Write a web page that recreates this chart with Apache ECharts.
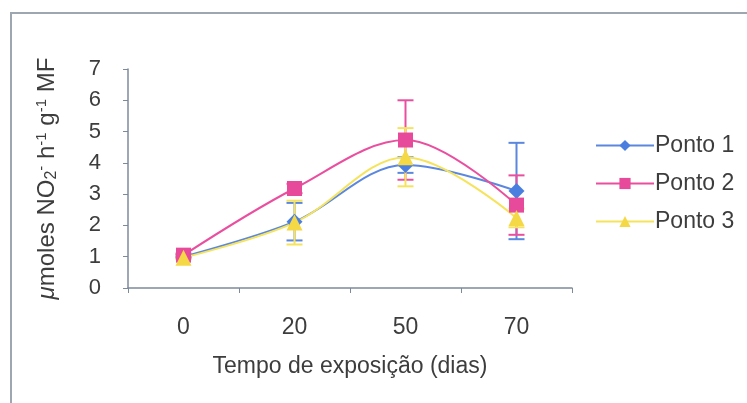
<!DOCTYPE html>
<html><head><meta charset="utf-8">
<script src="https://cdn.jsdelivr.net/npm/echarts@6/dist/echarts.min.js"></script>
<style>html,body{margin:0;padding:0;background:#fff}#c{width:747px;height:403px}</style>
</head><body><div id="c"></div>
<script>
const categories = ['0', '20', '50', '70'];
const ponto1 = [1.0, 2.12, 3.93, 3.1];
const ponto2 = [1.05, 3.18, 4.73, 2.65];
const ponto3 = [0.97, 2.09, 4.18, 2.24];
const err1 = [0.05, 0.6, 0.25, 1.54];
const err2 = [0.05, 0.15, 1.27, 0.95];
const err3 = [0.05, 0.7, 0.93, 0.3];
const yTicks = [0, 1, 2, 3, 4, 5, 6, 7];

const C1 = '#5b87df', C2 = '#ea4f9f', C3 = '#f6e35c';
const M1 = '#4a7fe0', M2 = '#e84a9b', M3 = '#f5d845';
const FONT = '"Liberation Sans", Arial, sans-serif';
const TXT = '#3d3d3d';

function errSeries(name, vals, errs, color) {
  return {
    type: 'custom', name: name + ' err', z: 1, silent: true,
    data: vals.map((v, i) => [i, v - errs[i], v + errs[i]]),
    renderItem: function (params, api) {
      const lo = api.coord([api.value(0), api.value(1)]);
      const hi = api.coord([api.value(0), api.value(2)]);
      const w = 8;
      const st = { stroke: color, lineWidth: 2 };
      return { type: 'group', children: [
        { type: 'line', shape: { x1: lo[0], y1: lo[1], x2: hi[0], y2: hi[1] }, style: st },
        { type: 'line', shape: { x1: lo[0] - w, y1: lo[1], x2: lo[0] + w, y2: lo[1] }, style: st },
        { type: 'line', shape: { x1: hi[0] - w, y1: hi[1], x2: hi[0] + w, y2: hi[1] }, style: st }
      ]};
    }
  };
}
function lineSeries(name, vals, lc, mc, sym, size) {
  return {
    type: 'line', name: name, data: vals, smooth: 0.35, z: 3,
    symbol: sym, symbolSize: size,
    lineStyle: { color: lc, width: 2 },
    itemStyle: { color: mc, borderWidth: 0 },
    emphasis: { disabled: true }
  };
}

const chart = echarts.init(document.getElementById('c'));
chart.setOption({
  animation: false,
  backgroundColor: '#fff',
  graphic: [
    { type: 'rect', left: 10, top: 12, shape: { width: 737, height: 2 },
      style: { fill: '#9ea7b0' }, z: 10 },
    { type: 'rect', left: 10, top: 12, shape: { width: 2, height: 391 },
      style: { fill: '#9ea7b0' }, z: 10 }
  ],
  grid: { left: 128, top: 69, right: 175, bottom: 115 },
  legend: {
    orient: 'vertical', left: 590, top: 129, itemWidth: 58, itemHeight: 14, itemGap: 15,
    data: ['Ponto 1', 'Ponto 2', 'Ponto 3'],
    textStyle: { fontFamily: FONT, fontSize: 23, color: TXT, padding: [0, 0, 0, -4] }
  },
  xAxis: {
    type: 'category', data: categories, boundaryGap: true,
    name: 'Tempo de exposição (dias)', nameLocation: 'middle', nameGap: 67,
    nameTextStyle: { fontFamily: FONT, fontSize: 23, color: TXT },
    axisLine: { lineStyle: { color: '#7d8a9c', width: 1.5 } },
    axisTick: { show: true, length: 5, inside: false, lineStyle: { color: '#7d8a9c' } },
    axisLabel: { fontFamily: FONT, fontSize: 23, color: TXT, margin: 28 }
  },
  yAxis: {
    type: 'value', min: 0, max: 7, interval: 1,
    name: '{mu|μ}moles NO{sub|2}{sup|-} h{sup|-1} g{sup|-1} MF',
    nameLocation: 'middle', nameGap: 68, nameRotate: 90,
    nameTextStyle: { fontFamily: FONT, fontSize: 24, color: TXT, rich: {
      mu: { fontFamily: FONT, fontSize: 24, fontStyle: 'italic', color: TXT },
      sub: { fontFamily: FONT, fontSize: 16, color: TXT, verticalAlign: 'bottom', lineHeight: 26 },
      sup: { fontFamily: FONT, fontSize: 15, color: TXT, verticalAlign: 'top', lineHeight: 26 }
    } },
    axisLine: { show: true, lineStyle: { color: '#7d8a9c', width: 1.5 } },
    axisTick: { show: true, length: 5, lineStyle: { color: '#7d8a9c' } },
    splitLine: { show: false },
    axisLabel: { fontFamily: FONT, fontSize: 22, color: TXT, margin: 27,
      formatter: v => yTicks.includes(v) ? String(v) : '' }
  },
  series: [
    errSeries('Ponto 1', ponto1, err1, C1),
    errSeries('Ponto 2', ponto2, err2, C2),
    errSeries('Ponto 3', ponto3, err3, C3),
    lineSeries('Ponto 1', ponto1, C1, M1, 'diamond', 16),
    lineSeries('Ponto 2', ponto2, C2, M2, 'rect', 15),
    lineSeries('Ponto 3', ponto3, C3, M3, 'triangle', 16)
  ]
});
</script></body></html>
